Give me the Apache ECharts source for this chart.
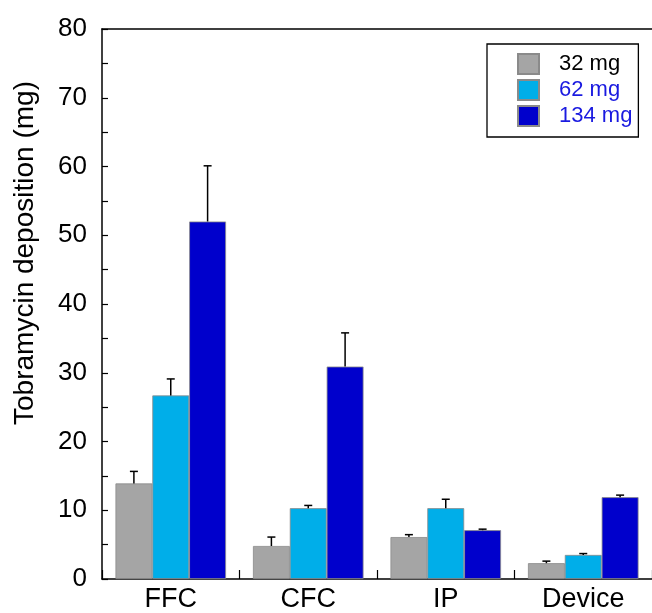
<!DOCTYPE html>
<html>
<head>
<meta charset="utf-8">
<script src="https://cdn.jsdelivr.net/npm/echarts@6/dist/echarts.min.js"></script>
<style>
  html, body { margin: 0; padding: 0; background: #fff; }
  #chart { width: 652px; height: 613px; }
</style>
</head>
<body>
<div id="chart"></div>
<script>
// data
const categories = ['FFC', 'CFC', 'IP', 'Device'];
const doses = ['32 mg', '62 mg', '134 mg'];
const mean32 = [13.9, 4.8, 6.1, 2.3];
const mean62 = [26.7, 10.3, 10.3, 3.5];
const mean134 = [52.0, 30.9, 7.1, 11.9];
const sd32 = [1.75, 1.3, 0.35, 0.3];
const sd62 = [2.4, 0.4, 1.3, 0.2];
const sd134 = [8.1, 4.9, 0.15, 0.3];

const colors = ['#a5a5a5', '#00aee9', '#0000cc'];
const legendColors = ['#000000', '#1a1ae0', '#1a1ae0'];
const font = 'Liberation Sans, Arial, Helvetica, sans-serif';
const catGap = 0.196;

const chart = echarts.init(document.getElementById('chart'));

const means = [mean32, mean62, mean134];
const sds = [sd32, sd62, sd134];

const barSeries = doses.map((d, i) => ({
  name: d,
  type: 'bar',
  data: means[i],
  barGap: 0,
  barCategoryGap: (catGap * 100) + '%',
  itemStyle: { color: colors[i], borderColor: '#8a8a8a', borderWidth: 0.8 }
}));

// error bars, upper side only
const errSeries = doses.map((d, i) => ({
  type: 'custom',
  z: 5,
  data: means[i].map((v, k) => [k, v, v + sds[i][k]]),
  renderItem: function (params, api) {
    const k = api.value(0);
    const band = api.size([1, 0])[0];
    const bw = band * (1 - catGap) / 3;
    const x = api.coord([k, 0])[0] + (i - 1) * bw;
    const yTop = api.coord([k, api.value(2)])[1];
    const yBar = api.coord([k, api.value(1)])[1];
    const st = { stroke: '#000', lineWidth: 1.5 };
    return {
      type: 'group',
      children: [
        { type: 'line', shape: { x1: x, y1: yBar, x2: x, y2: yTop }, style: st },
        { type: 'line', shape: { x1: x - 4, y1: yTop, x2: x + 4, y2: yTop }, style: st }
      ]
    };
  }
}));

const option = {
  animation: false,
  grid: { left: 102, top: 29, width: 552, height: 552 },
  legend: {
    data: doses.map((d, i) => ({ name: d, textStyle: { color: legendColors[i] } })),
    orient: 'vertical',
    left: 487,
    top: 44,
    itemWidth: 21,
    itemHeight: 20,
    itemGap: 4,
    icon: 'rect',
    padding: [9, 6, 10, 30],
    borderColor: '#000',
    borderWidth: 1.3,
    textStyle: { fontSize: 22, fontFamily: font, padding: [0, 0, 0, 15] }
  },
  xAxis: [{
    type: 'category',
    data: categories,
    axisLine: { lineStyle: { color: '#000', width: 1.5 } },
    axisTick: { show: true, interval: 0, inside: true, length: 9, lineStyle: { color: '#000', width: 1.2 } },
    axisLabel: { color: '#000', fontSize: 27, fontFamily: font, margin: 7 },
    splitLine: { show: false }
  }, {
    type: 'category',
    position: 'top',
    data: categories,
    axisLine: { lineStyle: { color: '#000', width: 1.5 } },
    axisTick: { show: false },
    axisLabel: { show: false }
  }],
  yAxis: {
    type: 'value',
    min: 0,
    max: 80,
    interval: 10,
    axisLine: { show: true, lineStyle: { color: '#000', width: 1.5 } },
    axisTick: { show: true, inside: true, length: 6, lineStyle: { color: '#000', width: 1.2 } },
    minorTick: { show: true, splitNumber: 2, length: 6, lineStyle: { color: '#000', width: 1.2 } },
    axisLabel: { color: '#000', fontSize: 26, fontFamily: font, margin: 15 },
    splitLine: { show: false }
  },
  graphic: [{
    type: 'text',
    x: 25,
    y: 253,
    rotation: Math.PI / 2,
    style: {
      text: 'Tobramycin deposition (mg)',
      font: '28px ' + font,
      fill: '#000',
      textAlign: 'center',
      textVerticalAlign: 'middle'
    }
  }],
  series: barSeries.concat(errSeries)
};

chart.setOption(option);
</script>
</body>
</html>
